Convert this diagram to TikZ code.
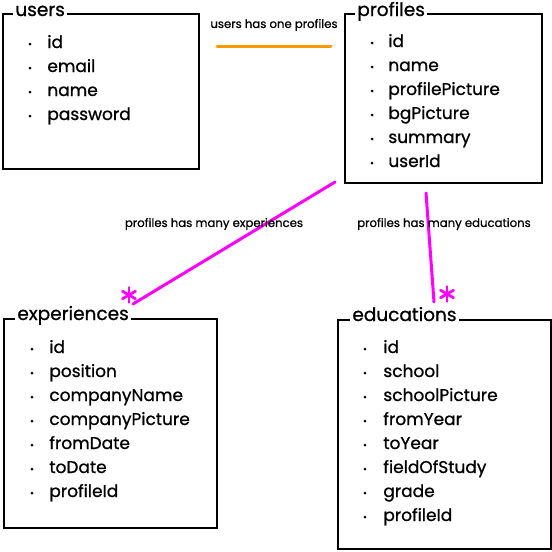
\documentclass[tikz,border=0pt]{standalone}
\usepackage{fontspec}
\setmainfont{Poppins}
\newfontfamily\sketchfont{Poppins}[FakeBold=0.9]
\usetikzlibrary{positioning,calc}
\definecolor{relpink}{RGB}{255,0,255}
\definecolor{relorange}{RGB}{255,153,0}
\tikzset{every picture/.style={line width=0.75pt}}
\tikzset{
  entity/.style={draw, line width=2.2pt, anchor=north west, inner sep=0pt},
  entitytitle/.style={fill=white, anchor=base west, inner sep=2pt, font=\sketchfont\fontsize{18.5}{18}\selectfont},
  field/.style={anchor=base west, inner sep=0pt, font=\sketchfont\fontsize{17}{17}\selectfont},
  rellabel/.style={inner sep=1pt, font=\sketchfont\fontsize{11.7}{12}\selectfont},
  relline/.style={line width=3pt, line cap=round},
  manymark/.style={relpink, line width=2.8pt, line cap=round}
}
\newcommand{\manystar}[1]{%
  \foreach \a in {90,30,150}
    \draw[manymark] ($(#1)+(\a:7.5)$) -- ($(#1)+(\a+180:7.5)$);}

\begin{document}
\begin{tikzpicture}[x=1pt, y=-1pt]
    \useasboundingbox (0,0) rectangle (552,552);

    % users
    \node[entity, minimum width=196, minimum height=155] (users) at (2,13) {};
    \node[entitytitle] (users-title) at ($(users.north west)+(11,3)$) {users};
    \foreach \f [count=\i] in {id,email,name,password} {
        \fill ($(users.north west)+(28,7+24*\i)$) circle (1.5);
        \node[field] (users-\i) at ($(users.north west)+(45,11+24*\i)$) {\f};
    }

    % profiles
    \node[entity, minimum width=197, minimum height=169] (profiles) at (344,13) {};
    \node[entitytitle] (profiles-title) at ($(profiles.north west)+(11,3)$) {profiles};
    \foreach \f [count=\i] in {id,name,profilePicture,bgPicture,summary,userId} {
        \fill ($(profiles.north west)+(28,6+24*\i)$) circle (1.5);
        \node[field] (profiles-\i) at ($(profiles.north west)+(44,10+24*\i)$) {\f};
    }

    % experiences
    \node[entity, minimum width=213, minimum height=209] (experiences) at (3,318) {};
    \node[entitytitle] (experiences-title) at ($(experiences.north west)+(12,2)$) {experiences};
    \foreach \f [count=\i] in {id,position,companyName,companyPicture,fromDate,toDate,profileId} {
        \fill ($(experiences.north west)+(29,7+24*\i)$) circle (1.5);
        \node[field] (experiences-\i) at ($(experiences.north west)+(46,11+24*\i)$) {\f};
    }

    % educations
    \node[entity, minimum width=213, minimum height=229] (educations) at (337,319) {};
    \node[entitytitle] (educations-title) at ($(educations.north west)+(13,2)$) {educations};
    \foreach \f [count=\i] in {id,school,schoolPicture,fromYear,toYear,fieldOfStudy,grade,profileId} {
        \fill ($(educations.north west)+(28,6+24*\i)$) circle (1.5);
        \node[field] (educations-\i) at ($(educations.north west)+(46,10+24*\i)$) {\f};
    }

    % users -- profiles
    \coordinate (up-a) at (217,46);
    \coordinate (up-b) at (331,46);
    \draw[relline, relorange] (up-a) -- (up-b);
    \node[rellabel] (up-label) at (274,25) {users has one profiles};

    % profiles -- experiences
    \coordinate (pe-a) at (335,182);
    \coordinate (pe-b) at (133,304);
    \draw[relline, relpink] (pe-a) -- (pe-b);
    \node[rellabel] (pe-label) at (214,224) {profiles has many experiences};
    \coordinate (pe-star) at (129,295);
    \manystar{pe-star}

    % profiles -- educations
    \coordinate (pd-a) at (426,193);
    \coordinate (pd-b) at (434,302);
    \draw[relline, relpink] (pd-a) -- (pd-b);
    \node[rellabel] (pd-label) at (444,224) {profiles has many educations};
    \coordinate (pd-star) at (447,294);
    \manystar{pd-star}
\end{tikzpicture}
\end{document}
